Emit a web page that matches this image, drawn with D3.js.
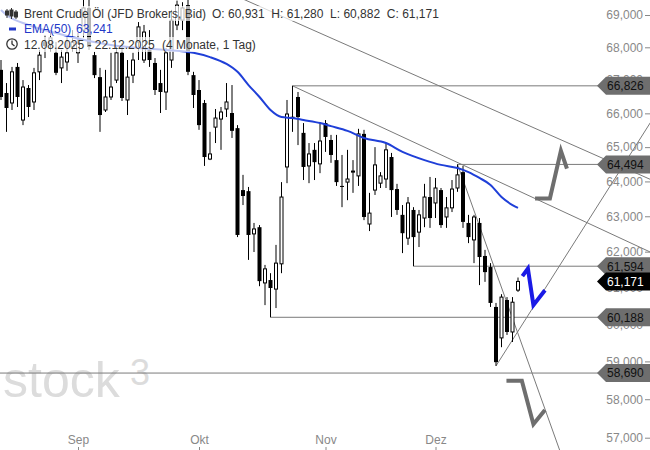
<!DOCTYPE html>
<html><head><meta charset="utf-8">
<script src="https://cdn.jsdelivr.net/npm/d3@7"></script>
<style>
body{margin:0;background:#fff}
svg{display:block}
text{font-family:"Liberation Sans",Arial,sans-serif}
</style>
</head><body>
<svg id="c" width="650" height="450"></svg>
<script>
// ---------- DATA ----------
const augDays = [12,13,14,15,18,19,20,21,22,25,26,27,28,29];
const sepDays = [1,2,3,4,5,8,9,10,11,12,15,16,17,18,19,22,23,24,25,26,29,30];
const octDays = [1,2,3,6,7,8,9,10,13,14,15,16,17,20,21,22,23,24,27,28,29,30,31];
const novDays = [3,4,5,6,7,10,11,12,13,14,17,18,19,20,21,24,25,26,27,28];
const decDays = [1,2,3,4,5,8,9,10,11,12,15,16,17,18,19,22];

const opens = [67.31,66.61,66.31,67.40,65.80,66.76,66.34,67.25,68.16,68.10,67.83,67.37,67.55,68.01,67.83,68.53,69.22,67.76,67.09,66.10,
66.49,67.00,67.83,66.40,67.15,68.16,67.61,67.92,67.52,66.91,66.64,67.61,68.69,68.84,69.31,67.15,66.70,66.31,64.65,65.59,
65.83,66.13,66.01,65.56,63.75,63.72,62.50,62.69,61.13,61.21,60.96,61.66,64.42,65.90,66.49,65.42,64.45,64.92,64.51,65.71,
65.21,64.62,63.87,63.98,64.27,64.16,65.39,62.78,63.75,63.95,64.07,64.71,63.78,63.04,62.38,63.18,62.55,62.95,63.55,63.38,
63.75,62.98,63.24,63.81,64.27,62.81,62.33,62.81,61.88,61.57,60.47,59.63,60.66,59.79,60.931];
const highs = [67.61,66.91,67.40,67.52,67.00,66.85,67.37,67.92,68.38,68.53,68.16,67.92,68.32,68.53,68.44,69.47,69.47,67.86,67.37,67.31,
67.83,68.01,68.13,67.61,67.83,68.78,68.69,68.53,67.67,67.31,67.98,69.16,69.45,69.40,69.50,67.25,67.00,66.40,65.45,66.13,
66.19,66.91,66.85,65.65,64.19,63.84,62.81,62.75,61.63,61.40,62.19,63.98,66.40,66.826,66.64,65.71,65.12,65.12,65.74,65.80,
65.36,65.36,64.77,64.92,64.62,65.54,65.51,63.67,65.00,64.27,65.12,64.83,63.93,63.32,63.55,63.26,63.18,63.93,64.13,64.10,
63.81,63.55,64.04,64.494,64.45,63.04,63.04,62.95,62.05,61.68,60.58,60.82,60.74,60.74,61.280];
const lows = [66.40,65.45,66.10,66.19,65.65,65.89,66.10,67.00,67.67,67.86,67.15,66.91,67.28,67.86,67.52,68.29,67.92,67.06,65.45,66.04,
66.40,66.91,66.37,65.95,66.91,67.61,67.52,67.40,66.55,66.01,66.10,67.37,68.53,68.53,67.15,66.16,65.51,64.45,64.62,65.12,
64.92,65.89,65.27,62.41,63.32,61.77,61.99,61.04,60.52,60.188,60.44,61.40,63.95,65.45,65.06,64.04,63.95,64.04,64.24,64.86,
64.54,63.87,63.26,63.46,63.67,63.87,62.89,62.58,63.61,63.81,63.81,62.98,63.04,61.96,62.19,61.594,62.13,62.69,62.67,62.95,
62.67,62.67,63.12,63.70,62.67,62.24,61.68,61.07,61.16,60.47,58.88,59.38,59.71,59.52,60.882];
const closes = [66.49,66.16,67.25,66.49,66.79,66.19,67.22,67.76,68.04,68.29,67.22,67.70,67.83,68.16,68.13,69.22,68.01,67.15,65.95,66.49,
66.79,67.83,66.46,67.09,67.61,68.63,68.47,67.61,66.70,66.64,67.83,68.84,69.31,69.22,67.25,66.55,65.65,64.71,64.80,65.86,
66.04,66.34,65.48,62.47,63.58,62.47,62.64,61.18,61.52,60.99,61.68,63.55,65.98,65.86,65.89,64.42,64.80,64.56,65.18,65.30,
64.77,63.98,63.84,64.07,64.30,65.39,62.98,63.09,64.48,64.16,64.92,63.75,63.18,62.52,63.38,62.41,63.04,63.55,62.95,63.81,
62.75,63.24,63.78,64.19,62.84,62.41,62.98,61.85,61.43,60.58,58.98,60.74,59.79,60.60,61.171];

const emaDates = ["2025-08-12","2025-08-13","2025-08-19","2025-08-26","2025-09-02","2025-09-09","2025-09-16","2025-09-23","2025-09-30",
"2025-10-03","2025-10-08","2025-10-10","2025-10-14","2025-10-16","2025-10-20","2025-10-22","2025-10-24","2025-10-28","2025-10-31",
"2025-11-04","2025-11-07","2025-11-12","2025-11-18","2025-11-21","2025-11-27","2025-12-02","2025-12-05","2025-12-09","2025-12-11",
"2025-12-15","2025-12-17","2025-12-19","2025-12-22"];
const emaValues = [69.156,69.00,68.69,68.44,68.23,68.07,67.98,67.92,67.83,
67.70,67.49,67.25,66.85,66.49,66.10,65.89,65.86,65.80,65.71,
65.62,65.48,65.27,65.12,64.86,64.62,64.48,64.39,64.27,64.10,
63.90,63.55,63.32,63.241];

const yTicks = [57,58,59,60,61,62,63,64,65,66,67,68,69];
const monthTickDates = ["2025-09-01","2025-10-01","2025-11-03","2025-12-01"];
const monthLabels = ["Sep","Okt","Nov","Dez"];

// horizontal support/resistance lines: start date, level
const hLineStarts = ["2025-10-24","2025-12-05","2025-11-25","2025-10-20","2025-08-12"];
const hLineLevels = [66.826,64.494,61.594,60.188,58.690];
// trend lines: two anchor points (bar index, price)
const trendLines = [
  [[44,69.50],[86,66.36]],
  [[53,66.826],[83,64.55]],
  [[83,64.494],[90,61.43]],
  [[90,58.88],[94,59.81]]
];
// forecast zigzags (bar index, price)
const zigUp   = [[97.1,63.51],[99.8,63.51],[101.8,64.89],[102.9,64.37]];
const zigBlue = [[94.8,61.32],[95.8,61.53],[96.8,60.52],[98.9,60.93]];
const zigDown = [[91.9,58.485],[94.7,58.485],[96.8,57.35],[98.9,57.72]];

const tagLevels = [66.826,64.494,61.594,60.188,58.690];
const lastPrice = 61.171;

const titleText = "Brent Crude Öl (JFD Brokers, Bid)";
const ohlcText = "O: 60,931  H: 61,280  L: 60,882  C: 61,171";
const emaLabel = "EMA(50)";
const emaValueText = "63,241";
const rangeText = "12.08.2025 - 22.12.2025";
const spanText = "(4 Monate, 1 Tag)";

// ---------- BUILD ----------
const pad = n => String(n).padStart(2,"0");
const dates = [
  ...augDays.map(d=>`2025-08-${pad(d)}`),
  ...sepDays.map(d=>`2025-09-${pad(d)}`),
  ...octDays.map(d=>`2025-10-${pad(d)}`),
  ...novDays.map(d=>`2025-11-${pad(d)}`),
  ...decDays.map(d=>`2025-12-${pad(d)}`)
];
const idxOf = new Map(dates.map((d,i)=>[d,i]));
const candles = dates.map((d,i)=>({i, o:opens[i], h:highs[i], l:lows[i], c:closes[i]}));

const W = 650, H = 450;
const x = d3.scaleLinear().domain([0, dates.length-1]).range([1, 518]);
const y = d3.scaleLog().domain([57, 69]).range([437.7, 15]);
const fmt = d3.formatLocale({decimal:",", thousands:".", grouping:[3], currency:["",""]}).format(".3f");

const svg = d3.select("#c");
svg.append("defs").append("clipPath").attr("id","clip")
  .append("rect").attr("x",0).attr("y",0).attr("width",W).attr("height",H);
const plot = svg.append("g").attr("clip-path","url(#clip)");

// watermark
const wm = plot.append("g").attr("fill","#dcdcdc");
wm.append("text").attr("x",3).attr("y",397).attr("font-size",50)
  .attr("font-family","'DejaVu Sans',sans-serif").text("stock");
wm.append("text").attr("x",130).attr("y",385).attr("font-size",36)
  .attr("font-family","'DejaVu Sans',sans-serif").text("3");

// horizontal lines
plot.selectAll("line.h").data(hLineLevels).join("line")
  .attr("x1",(v,k)=> k===4 ? 0 : x(idxOf.get(hLineStarts[k])))
  .attr("x2",W)
  .attr("y1",v=>y(v)).attr("y2",v=>y(v))
  .attr("stroke","#7a7a7a").attr("stroke-width",1);

// trend lines extended in pixel space
trendLines.forEach(([a,b])=>{
  const x1=x(a[0]), y1=y(a[1]), x2=x(b[0]), y2=y(b[1]);
  const s=(y2-y1)/(x2-x1);
  const xe=720;
  plot.append("line").attr("x1",x1).attr("y1",y1)
    .attr("x2",xe).attr("y2",y1+s*(xe-x1))
    .attr("stroke","#7a7a7a").attr("stroke-width",1);
});

// candles
const cg = plot.append("g");
const cs = cg.selectAll("g").data(candles).join("g");
cs.append("line")
  .attr("x1",d=>x(d.i)).attr("x2",d=>x(d.i))
  .attr("y1",d=>y(d.h)).attr("y2",d=>y(d.l))
  .attr("stroke","#000").attr("stroke-width",1);
cs.append("rect")
  .attr("x",d=> d.c>=d.o ? x(d.i)-1.5 : x(d.i)-2)
  .attr("width",d=> d.c>=d.o ? 3 : 4)
  .attr("y",d=>y(Math.max(d.o,d.c)))
  .attr("height",d=>Math.max(1,Math.abs(y(d.o)-y(d.c))))
  .attr("fill",d=> d.c>=d.o ? "#fff" : "#000")
  .attr("stroke",d=> d.c>=d.o ? "#000" : "none")
  .attr("stroke-width",1);

// EMA
plot.append("path")
  .datum(emaDates.map((d,k)=>[idxOf.get(d), emaValues[k]]))
  .attr("d", d3.line().x(d=>x(d[0])).y(d=>y(d[1])).curve(d3.curveMonotoneX))
  .attr("fill","none").attr("stroke","#1f3fd8").attr("stroke-width",2);

// zigzags
const zline = d3.line().x(d=>x(d[0])).y(d=>y(d[1]));
plot.append("path").datum(zigUp).attr("d",zline)
  .attr("fill","none").attr("stroke","#6e6e6e").attr("stroke-width",4);
plot.append("path").datum(zigDown).attr("d",zline)
  .attr("fill","none").attr("stroke","#6e6e6e").attr("stroke-width",4);
plot.append("path").datum(zigBlue).attr("d",zline)
  .attr("fill","none").attr("stroke","#1a1ae6").attr("stroke-width",4);

// legend
const lg = svg.append("g").attr("font-size",12);
const bg = lg.append("g");
const t1 = lg.append("text").attr("x",24).attr("y",18).attr("fill","#333").attr("xml:space","preserve");
t1.append("tspan").text(titleText);
t1.append("tspan").attr("x",212).text(ohlcText);
const t2 = lg.append("text").attr("x",24).attr("y",33).attr("fill","#2238c8").attr("xml:space","preserve");
t2.append("tspan").text(emaLabel);
t2.append("tspan").attr("x",76).text(emaValueText);
const t3 = lg.append("text").attr("x",24).attr("y",49).attr("fill","#333").attr("xml:space","preserve");
t3.append("tspan").text(rangeText);
t3.append("tspan").attr("x",162).text(spanText);
[t1,t2,t3].forEach(t=>{
  const b=t.node().getBBox();
  bg.append("rect").attr("x",0).attr("y",b.y-1).attr("width",b.x+b.width+4).attr("height",b.height+1)
    .attr("fill","#fff").attr("opacity",0.7);
});
// legend icons
const ic = lg.append("g").attr("stroke","#333").attr("stroke-width",1);
[[7,9,18,11,15],[11.5,8,19,10,16],[16,10,19,12,17]].forEach(([cx,a,b,c,d])=>{
  ic.append("line").attr("x1",cx).attr("x2",cx).attr("y1",a).attr("y2",b);
  ic.append("rect").attr("x",cx-1.5).attr("y",c).attr("width",3).attr("height",d-c).attr("fill","#333");
});
lg.append("rect").attr("x",9).attr("y",27.5).attr("width",7).attr("height",3).attr("fill","#2238c8");
lg.append("circle").attr("cx",12).attr("cy",44).attr("r",5.2).attr("fill","none").attr("stroke","#333").attr("stroke-width",1.3);
lg.append("path").attr("d","M12,40.5V44L14.5,46").attr("fill","none").attr("stroke","#333").attr("stroke-width",1.3);

// right axis
const ya = svg.append("g").attr("transform",`translate(${W},0)`)
  .call(d3.axisLeft(y).tickValues(yTicks).tickFormat(fmt).tickSize(5).tickPadding(2));
ya.select(".domain").remove();
ya.selectAll("line").attr("stroke","#888");
ya.selectAll("text").attr("fill","#888").attr("font-size",12).attr("font-family","'Liberation Sans',Arial,sans-serif");

// bottom month axis
const xa = svg.append("g").attr("transform",`translate(0,${H})`)
  .call(d3.axisTop(x).tickValues(monthTickDates.map(d=>idxOf.get(d)))
    .tickFormat((v,k)=>monthLabels[k]).tickSize(3).tickPadding(3));
xa.select(".domain").remove();
xa.selectAll("line").attr("stroke","#888");
xa.selectAll("text").attr("fill","#888").attr("font-size",12).attr("font-family","'Liberation Sans',Arial,sans-serif");

// price tags
function tag(v, fill, tc){
  const cy = y(v);
  const g = svg.append("g");
  g.append("path").attr("d",`M597,${cy}L606,${cy-9}H${W}V${cy+9}H606Z`).attr("fill",fill);
  g.append("text").attr("x",607).attr("y",cy).attr("dy","0.36em").attr("font-size",12)
    .attr("fill",tc).text(fmt(v));
}
tagLevels.forEach(v=>tag(v,"#6e6e6e","#111"));
tag(lastPrice,"#000","#fff");
</script>
</body></html>
